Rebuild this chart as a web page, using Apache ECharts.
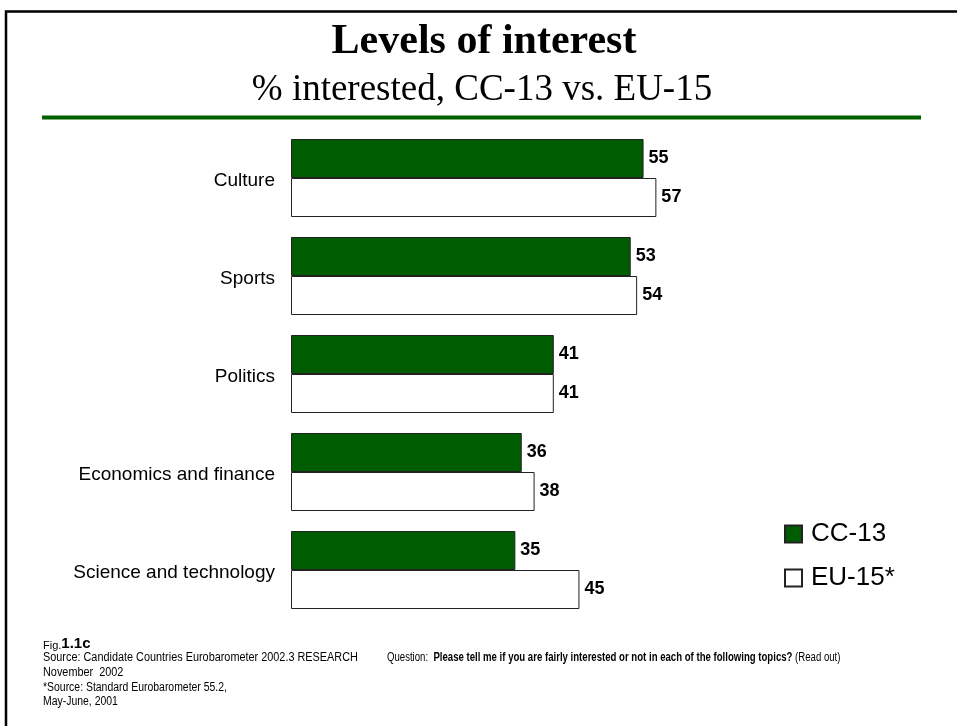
<!DOCTYPE html>
<html>
<head>
<meta charset="utf-8">
<title>Levels of interest</title>
<script src="https://cdn.jsdelivr.net/npm/echarts@6/dist/echarts.min.js"></script>
<style>
  html, body { margin: 0; padding: 0; background: #fff; }
  #chart { width: 957px; height: 726px; }
</style>
</head>
<body>
<div id="chart"></div>
<script>
// Topics and the share of respondents interested in each (%)
const categories = ['Culture', 'Sports', 'Politics', 'Economics and finance', 'Science and technology'];
const cc13Values = [55, 53, 41, 36, 35];
const eu15Values = [57, 54, 41, 38, 45];
const seriesNames = ['CC-13', 'EU-15*'];

const SANS = '"Liberation Sans", Arial, sans-serif';
const SERIF = '"Liberation Serif", "Times New Roman", serif';
const GREEN = '#005c00';

const chart = echarts.init(document.getElementById('chart'), null, { renderer: 'canvas' });

const valueLabel = {
  show: true,
  position: 'right',
  distance: 5,
  fontFamily: SANS,
  fontSize: 18,
  fontWeight: 'bold',
  color: '#000'
};

// a condensed footnote line (horizontally squeezed sans text)
function noteLine(text, x, y, size, squeeze) {
  return {
    type: 'text',
    x: x, y: y,
    scaleX: squeeze,
    style: {
      text: text,
      font: size + 'px ' + SANS,
      fill: '#000',
      textVerticalAlign: 'middle'
    }
  };
}

chart.setOption({
  backgroundColor: '#fff',
  animation: false,
  textStyle: { fontFamily: SANS },
  grid: { left: 291, right: 25, top: 129, bottom: 107 },
  xAxis: {
    type: 'value',
    min: 0,
    max: 100,
    show: false
  },
  yAxis: {
    type: 'category',
    data: categories,
    inverse: true,
    axisLine: { show: false },
    axisTick: { show: false },
    splitLine: { show: false },
    axisLabel: {
      margin: 16,
      fontFamily: SANS,
      fontSize: 19,
      color: '#000',
      verticalAlign: 'top',
      lineHeight: 6
    }
  },
  legend: {
    data: seriesNames,
    orient: 'vertical',
    left: 784,
    top: 521,
    padding: 0,
    itemWidth: 17,
    itemHeight: 17,
    itemGap: 18,
    icon: 'rect',
    textStyle: { fontFamily: SANS, fontSize: 26, color: '#000', padding: [0, 0, 0, 4] }
  },
  series: [
    {
      name: seriesNames[0],
      type: 'bar',
      data: cc13Values,
      barGap: '0%',
      barCategoryGap: '20.4%',
      itemStyle: { color: GREEN, borderColor: '#222', borderWidth: 1 },
      label: valueLabel
    },
    {
      name: seriesNames[1],
      type: 'bar',
      data: eu15Values,
      barGap: '0%',
      barCategoryGap: '20.4%',
      itemStyle: { color: '#fff', borderColor: '#222', borderWidth: 1 },
      label: valueLabel
    }
  ],
  graphic: [
    // page frame: top and left edges
    {
      type: 'polyline',
      shape: { points: [[6, 726], [6, 11.5], [957, 11.5]] },
      style: { stroke: '#000', lineWidth: 2.5, fill: null }
    },
    // green rule under the heading
    {
      type: 'line',
      shape: { x1: 42, y1: 117.5, x2: 921, y2: 117.5 },
      style: { stroke: '#006000', lineWidth: 4 }
    },
    {
      type: 'text',
      x: 484, y: 42,
      style: {
        text: 'Levels of interest',
        font: 'bold 42px ' + SERIF,
        fill: '#000',
        textAlign: 'center',
        textVerticalAlign: 'middle'
      }
    },
    {
      type: 'text',
      x: 482, y: 90,
      style: {
        text: '% interested, CC-13 vs. EU-15',
        font: '37px ' + SERIF,
        fill: '#000',
        textAlign: 'center',
        textVerticalAlign: 'middle'
      }
    },
    // footnotes
    {
      type: 'text',
      x: 43, y: 651,
      style: {
        text: '{a|Fig.}{b|1.1c}',
        textVerticalAlign: 'bottom',
        rich: {
          a: { fontFamily: SANS, fontSize: 11, fill: '#000', verticalAlign: 'bottom' },
          b: { fontFamily: SANS, fontSize: 15, fontWeight: 'bold', fill: '#000', verticalAlign: 'bottom' }
        }
      }
    },
    noteLine('Source: Candidate Countries Eurobarometer 2002.3 RESEARCH', 43, 658, 12.5, 0.87),
    noteLine('November  2002', 43, 673, 12.5, 0.87),
    noteLine('*Source: Standard Eurobarometer 55.2,', 43, 688, 12, 0.87),
    noteLine('May-June, 2001', 43, 702, 12, 0.87),
    {
      type: 'text',
      x: 387, y: 658,
      scaleX: 0.8,
      style: {
        text: '{r|Question:  }{b|Please tell me if you are fairly interested or not in each of the following topics?}{r| (Read out)}',
        textVerticalAlign: 'middle',
        rich: {
          r: { fontFamily: SANS, fontSize: 12, fill: '#000' },
          b: { fontFamily: SANS, fontSize: 12, fontWeight: 'bold', fill: '#000' }
        }
      }
    }
  ]
});
</script>
</body>
</html>
